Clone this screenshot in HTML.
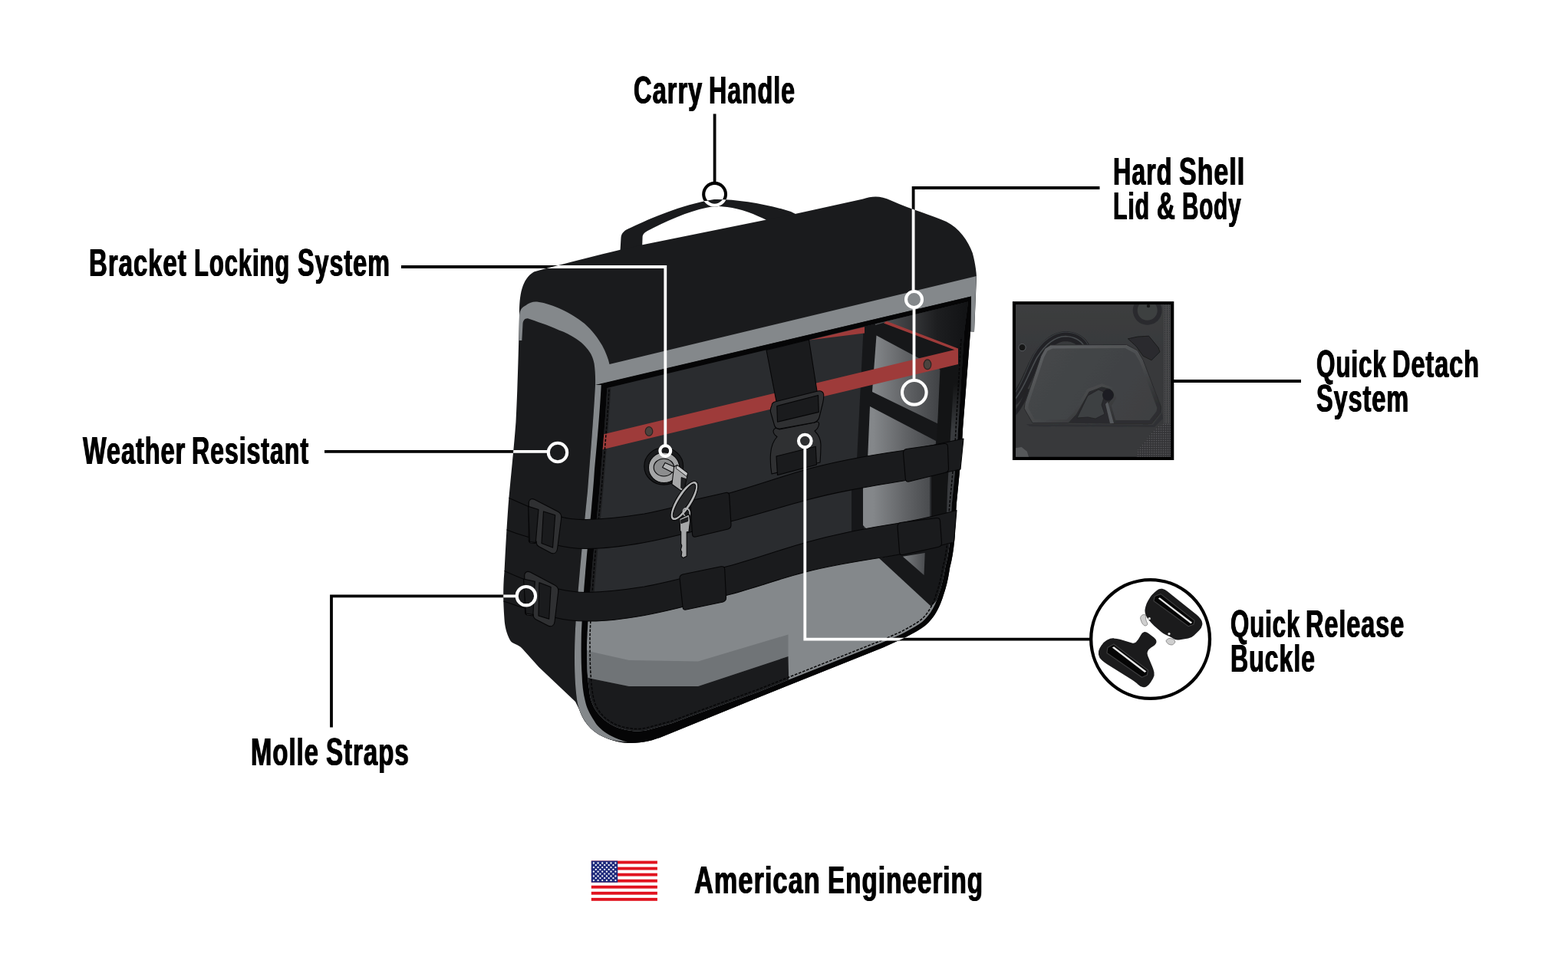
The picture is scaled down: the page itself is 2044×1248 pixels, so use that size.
<!DOCTYPE html>
<html lang="en">
<head>
<meta charset="utf-8">
<title>Saddlebag Features</title>
<style>
html,body{margin:0;padding:0;background:#fff;}
body{width:2044px;height:1248px;position:relative;overflow:hidden;font-family:"Liberation Sans",sans-serif;}
#art{position:absolute;left:0;top:0;width:2044px;height:1248px;display:block;}
.lb{position:absolute;left:0;top:0;margin:0;width:0;height:0;font-weight:700;font-size:50.5px;line-height:58px;white-space:nowrap;color:#000;}
.w{position:absolute;display:block;height:58px;transform-origin:0 0;will-change:transform;letter-spacing:1.5px;text-shadow:0.8px 0 0 #000,-0.8px 0 0 #000;}
</style>
</head>
<body>
<svg id="art" width="2044" height="1248" viewBox="0 0 2044 1248">
<defs>
<path id="silh" d="M677,410 C677,385 680,364 696,354.5 C720,347.5 770,335 808.5,325.8 L837.6,319.2 L1037.5,278.75 L1125,259.5 C1137,255.5 1148,255 1161.6,261.6 C1190,274 1215,281 1233.5,289 C1250,297 1262,314 1267.8,330 C1271,342 1272.5,352 1273,361 L1270,432.5 L1265,432.5 L1255,560 C1253.5,595 1249,635 1246.6,661 C1245.5,680 1245,695 1244.2,704.2 C1243,718 1241,730 1238.2,740.2 C1236,755 1233.5,766 1229.8,776.3 C1226.5,787 1223,795 1217.8,802.7 C1213,809.5 1208,815 1200.9,819.5 C1193,824.5 1185,829 1176.9,832.8 L1151,844.5 L990,909 L865,960 C850,966 835,970 815,968.75 C800,967 790,963 780,957.5 C768,950 760,940 755,925 L750,915 L702.5,870 L681,846 C675,839.5 668,840 665,835 C660,826 658,816 657.5,807.5 C655.5,780 656,762 657.5,745 C659,715 660.5,688 662.5,660 C665,630 669.5,590 672.5,550 C674.5,510 676,460 677,410 Z"/>
<path id="handle" d="M808.5,327 L809.5,310 C810,304 814,300 822,297 C850,284 885,268 931,260 C960,259.5 1000,266 1031,276 L1040,280.5 L1001,288 C985,279.5 965,272 948,270 C940,269 935,269 931,269 C905,273 880,283 851,297.5 C843,301.5 838,304 837.6,308.5 L837.2,320.5 Z"/>
<clipPath id="clipbag"><use href="#silh"/><use href="#handle"/><rect x="910" y="262" width="44" height="14"/></clipPath>
<clipPath id="clipsil"><use href="#silh"/></clipPath>
<path id="face" d="M776,502 L1266,386.5 L1265,432.5 L1255,560 C1253.5,595 1249,635 1246.6,661 C1245.5,680 1245,695 1244.2,704.2 C1243,718 1241,730 1238.2,740.2 C1236,755 1233.5,766 1229.8,776.3 C1226.5,787 1223,795 1217.8,802.7 C1213,809.5 1208,815 1200.9,819.5 C1193,824.5 1185,829 1176.9,832.8 L1151,844.5 L990,909 L865,960 C850,966 835,970 815,968.75 C800,967 790,963 780,957.5 C768,950 758,938 753,918 C749,895 748,860 750,820 C753,770 760,700 766,640 C770,590 774,540 776,502 Z"/>
<clipPath id="clipface"><use href="#face"/></clipPath>
<path id="panel" d="M791.3,506 L1262,393.5 L1257,432.5 L1249,560 C1247.5,595 1243,635 1240.6,661 C1239.5,680 1239,695 1238.2,704.2 C1237,718 1235,729 1232.4,739 C1230,753 1227.7,764 1224,774 C1221,784 1217.5,792 1212.8,799 C1208.5,805 1204,810 1197.5,814.3 C1190,819 1182,823.5 1174.3,827.2 L1148.6,838.6 L988,902.5 L900,934 L875.6,943.2 L842,952.5 C835,953.5 830,953.8 825.1,953.3 C812,952 800,948 791.5,941.6 C783,935 778,929 774.6,923 C770,914 768.5,906 767.9,897.8 C766,885 765.5,875 765.4,864.1 C764.8,850 764.8,840 765.5,830.5 C767,790 774.5,710 781.3,640 C785.3,590 789.3,545 791.3,506 Z"/>
<clipPath id="clippanel"><use href="#panel"/></clipPath>
<linearGradient id="gp1" gradientUnits="userSpaceOnUse" x1="1138" y1="0" x2="1228" y2="0"><stop offset="0" stop-color="#84878a"/><stop offset="0.5" stop-color="#5f6164"/><stop offset="1" stop-color="#3e4043"/></linearGradient>
<linearGradient id="gp2" gradientUnits="userSpaceOnUse" x1="1160" y1="0" x2="1262" y2="0"><stop offset="0" stop-color="#4b4d50"/><stop offset="0.6" stop-color="#1d1e20"/><stop offset="1" stop-color="#111214"/></linearGradient>
<g id="callouts" fill="none" stroke-width="3.8">
  <path d="M931.6,148.5 V238"/>
  <circle cx="931.6" cy="253.3" r="14.4" stroke-width="4.1"/>
  <path d="M1433.5,245 H1190.6 V378.5"/>
  <circle cx="1191.5" cy="390.5" r="10.5" stroke-width="4.1"/>
  <path d="M1191.5,402.5 V495"/>
  <circle cx="1191.8" cy="511.8" r="15.8" stroke-width="4.1"/>
  <path d="M523,348 H867.3 V580"/>
  <circle cx="867.3" cy="588" r="6.9" stroke-width="4.1"/>
  <path d="M423,588.8 H713"/>
  <circle cx="727" cy="590" r="12.2" stroke-width="4.1"/>
  <path d="M432,948.5 V777.3 H672"/>
  <circle cx="685.9" cy="777.2" r="12.2" stroke-width="4.1"/>
  <circle cx="1049.3" cy="575" r="8.3" stroke-width="4.1"/>
  <path d="M1049.3,584 V833.6 H1421"/>
  <path d="M1530,497 H1696"/>
</g>
<clipPath id="clipdetach"><rect x="1324.1" y="397.3" width="202" height="198.5"/></clipPath>
<linearGradient id="gdtop" x1="0" y1="0" x2="0" y2="1"><stop offset="0" stop-color="#3c3d3f"/><stop offset="1" stop-color="#38393b"/></linearGradient>
<pattern id="meshpat" width="3" height="3" patternUnits="userSpaceOnUse"><rect width="3" height="3" fill="none"/><circle cx="1.5" cy="1.5" r="0.8" fill="#58595b"/></pattern>
<linearGradient id="gp3" gradientUnits="userSpaceOnUse" x1="1176" y1="0" x2="1206" y2="0"><stop offset="0" stop-color="#7d8083"/><stop offset="1" stop-color="#4a4c4f"/></linearGradient>
<linearGradient id="gband" gradientUnits="userSpaceOnUse" x1="0" y1="500" x2="0" y2="560"><stop offset="0" stop-color="#131415"/><stop offset="1" stop-color="#393b3e"/></linearGradient>
<linearGradient id="gbevel" gradientUnits="userSpaceOnUse" x1="1400" y1="448" x2="1450" y2="555"><stop offset="0" stop-color="#5a5c5e"/><stop offset="0.5" stop-color="#4a4c4e"/><stop offset="1" stop-color="#2d2e30"/></linearGradient>
<linearGradient id="gplate" gradientUnits="userSpaceOnUse" x1="1350" y1="450" x2="1500" y2="552"><stop offset="0" stop-color="#454749"/><stop offset="1" stop-color="#3e4042"/></linearGradient>
<filter id="soft" x="-5%" y="-5%" width="110%" height="110%"><feGaussianBlur stdDeviation="0.7"/></filter>

</defs>
<use href="#callouts" stroke="#000"/>

<g id="bag">
<use href="#handle" fill="#1a1b1d"/>
<use href="#silh" fill="#1a1b1d"/>
<!-- reflective band -->
<path fill="#84888b" d="M677,411 C678,404 680,401 685,398.5 C690,394.5 695,393 700,393.5 C712,395 722,399 732,403.5 C745,409.5 753,415 762,422 C772,431 779,440 785,450.5 C790,460 793,468 794.5,475 L1272.7,360 L1270,432.5 L1265.5,432 L1266,386.5 L776,502.5 C776.3,492 775.8,483 774.6,474.3 C773,466 770,460.5 766.7,456.3 C762,450 757,445.5 751,441.7 C744,437 737,433.5 728.5,430.5 C721,427 714,424 706,421.5 C700,419.5 694,417 688,415.3 C684,415 682,418 681.5,422 L680.3,444 L676.5,444 Z"/>
<!-- front face -->
<use href="#face" fill="#050506"/>
<path fill="#84888b" d="M776,502 C774,540 770,590 766,640 C760,700 753,770 750,820 C748,860 749,895 753,918 C758,938 768,950 780,957.5 C790,963 800,967 818.4,967.5 C812,966.5 800,962 791.5,956.7 C783,951 778,946 774.6,939.9 C768,930 764.5,922 762.9,914.6 C760,903 759,892 758.6,881 C757.5,865 757.5,848 757.8,830.5 C759,800 761,775 761.4,766 C764,735 767,700 770.2,671.7 C772,650 774,630 775,612 C779,570 782,535 783.75,502 Z"/>
<use href="#panel" fill="#2a2c2f"/>
<g clip-path="url(#clippanel)">
  <!-- interior right: frame seen through -->
  <path fill="#161719" d="M1126,420 L1270,380 L1270,600 L1117,600 Z"/>
  <path fill="url(#gp2)" d="M1141,418 L1270,385 L1270,470 L1250,456 L1155,420 L1141,424 Z"/>
  <path fill="url(#gp1)" d="M1142.5,437.5 L1227.5,483 L1222.5,552.5 L1137,511 Z"/>
  <path fill="url(#gp1)" d="M1134,530 L1220,575 L1219,600 L1131,600 Z"/>
  <path fill="#161719" d="M1110,600 L1126,600 L1126,700 L1110,700 Z"/>
  <path fill="#131415" d="M1214,600 L1260,600 L1250,725 L1214,725 Z"/>
  <path fill="#131415" d="M1226,470 L1262,440 L1258,600 L1220,600 Z"/>
  <path fill="url(#gband)" d="M1243,500 L1256,500 L1246,725 L1232.5,725 L1235,640 Z"/>
  <path fill="url(#gp1)" d="M1125,620 L1212,600 L1212,680 L1135,695 L1125,685 Z"/>
  <path fill="none" stroke="#1e1f21" stroke-width="5.5" d="M793.5,506 C791.5,545 787.5,590 783.5,640 C777,710 769.5,790 768,830.5 C767.5,860 768,885 770,900"/>
  <!-- red frame -->
  <path fill="#9e3b3a" d="M1055,443.4 L1127,426.2 L1127,434.6 Z"/>
  <path fill="#9e3b3a" d="M1155.6,418.8 L1249,454.6 L1249,458 L1152,421.6 Z"/>
  <path fill="#9e3b3a" d="M784,567 L1249,455 L1249,475 L784,586.5 Z"/>
  <ellipse cx="846" cy="562.5" rx="4.8" ry="6" fill="#4b433e" stroke="#2a2422" stroke-width="1.2"/>
  <ellipse cx="1209" cy="475.3" rx="4.8" ry="6.4" fill="#4b433e" stroke="#2a2422" stroke-width="1.2"/>
  <!-- bottom light regions -->
  <path fill="#84888b" d="M760,800 C800,804 850,796 900,784 C960,770 1010,754 1050,740 C1100,724 1150,714 1175,714 L1245,700 L1245,850 L1000,960 L760,960 Z"/>
  <path fill="#17181a" d="M1146,728 L1240,708 L1236,745 L1228,775 L1214,791 Z"/>
  <path fill="url(#gp3)" d="M1176.9,725.8 L1205.7,721 L1204.5,750 Z"/>
  <path fill="#707477" d="M760,846 L771,850 L820,861 L910,862.5 L1027.5,827.5 L1027.5,856 L910,895 L820,895 L771,885 L760,882 Z"/>
  <path fill="#1a1b1d" d="M760,882 L771,885 L820,895 L910,895 L1027.5,856 L1028.5,900 L900,970 L760,970 Z"/>
</g>
<!-- stitching -->
<g clip-path="url(#clipface)">
<path fill="none" stroke="#060607" stroke-width="1.5" stroke-dasharray="3.6 1.8" d="M794,508 C792,545 788,590 784,640 C778,700 771,770 769,830.5 C769,850 769,870 770.5,885 C771.5,900 773,912 777.5,921.5 C781,928.5 786,934.5 793.5,939.5 C801,945 812,949 825,950.3 C830,950.8 836,950.5 841.5,949.5 L875,940.5 L899,931.5 L987,899.5 L1147.6,835.8 L1173,824.5 C1181,820.5 1189,816 1196,811.5 C1202,807.5 1206.5,803 1210.3,797 C1215,790 1218,783 1221,773 C1224.5,763 1227,752 1229.4,738.5 C1232,728 1234,717.5 1235.2,704 C1236,695 1236.5,680 1237.6,661 C1240,635 1244.5,595 1246,560 L1253,440"/>
</g>
<!-- side strap outlines -->
<g clip-path="url(#clipsil)" fill="none" stroke="#060607" stroke-width="1.1">
  <path d="M660,648 C670,652 680,657 689,660.5"/>
  <path d="M658,690 C668,694 680,698 689,700.5"/>
  <path d="M656,744 C665,748 674,752 682,755"/>
  <path d="M656,784 C666,787 676,791 685,793.5"/>
</g>
<!-- centre strap + quick release buckle -->
<g stroke="#060607" stroke-width="1.1" stroke-linejoin="round">
  <path fill="#1a1b1d" d="M999,456.5 L1054.5,443 L1065.5,513 L1012.5,526 Z"/>
  <path fill="#2f3032" d="M1008,562 C1009,558 1012,557.5 1016,560 L1062,551 C1066,549 1068,550.5 1067.5,553.5 C1067,557 1065,560 1062,562 C1067,567 1070,573 1070,580 C1070,590 1069.5,597 1069,603 L1006,618 C1004.5,610 1004,600 1004.5,592 C1005,583 1008,575 1013,569.5 C1010,567.5 1008,565 1008,562 Z"/>
  <path fill="#1a1b1d" d="M1012,595 L1063.3,582.2 L1064.5,606 L1013.5,619.5 Z"/>
  <path fill="#2f3032" d="M1006,529 C1006,526 1008,524.5 1011,523.8 L1066,510 C1070,509.2 1073,510.5 1073.6,514 C1074,518 1073.5,522 1072.5,526 L1068,544 C1067,548 1065,550 1061,551 L1017,559 C1013,559.5 1010.5,558 1009.5,554.5 L1004.5,537 C1004,534 1005,531 1006,529 Z"/>
  <path fill="#1a1b1d" d="M1012.8,529.5 L1066.5,515.5 L1067.3,537.4 L1013.5,550.2 Z"/>
</g>
<!-- molle straps on front -->
<g stroke="#060607" stroke-width="1.1" stroke-linejoin="round" fill="#1a1b1d">
  <path d="M727,673 C740,676.5 752,678 765,677.5 C790,677 815,674 840,670 C880,662 915,652 952.5,642.5 C990,632 1020,621 1050,612.5 C1095,600 1135,593.5 1177.5,587.5 C1205,583 1230,578 1256,572 L1252,612 C1225,618 1200,623 1175,627.5 C1130,635 1090,641.5 1050,652.5 C1015,662 985,671.5 952.5,680 C915,690 880,700 840,707.5 C815,712 790,715.5 765,715.5 C750,715.5 738,714 724,710.5 Z"/>
  <path d="M728,768 C741,771 753,772.5 765,772.5 C790,772 815,769 840,765 C880,757.5 915,747.5 952.5,737.5 C990,727 1020,716 1050,707.5 C1095,695 1130,688.5 1170,682.5 C1198,678 1222,672 1247,665.5 L1243.5,707 C1218,713.5 1195,719 1170,723.5 C1130,730.5 1090,735.5 1050,746 C1015,755 985,766.5 952.5,775 C915,785 880,795 840,802.5 C815,807 790,810.5 765,810 C750,810 736,808.5 722,805 Z"/>
  <path d="M900,657 C900,654 901,652.8 904,652 L946,642.5 C949,642 950.5,643 950.7,646 L953,684 C953.2,687 952,689 949,690 L907,700 C904,700.5 902.7,699.5 902.5,696.5 Z"/>
  <path d="M886,754 C886,751 887,749.8 890,749 L940,738.8 C943,738.3 944.5,739.3 944.7,742.3 L946.5,779 C946.7,782 945.5,784 942.5,785 L894.5,795 C891.5,795.5 890.2,794.5 890,791.5 Z"/>
  <path d="M1177.5,591 C1177.3,588 1178.5,586.3 1181.5,585.5 L1231,578.5 C1234,578.2 1235.3,579.5 1235.5,582.5 L1236.5,611 C1236.7,614 1235.5,615.6 1232.5,616.3 L1185,628 C1182,628.5 1180.5,627.3 1180.3,624.3 Z"/>
  <path d="M1170,687 C1169.8,684 1171,682.3 1174,681.5 L1221,675.5 C1224,675.2 1225.3,676.5 1225.5,679.5 L1227.5,708 C1227.7,711 1226.5,712.6 1223.5,713.3 L1177,723.5 C1174,724 1172.7,722.8 1172.5,719.8 Z"/>
</g>
<!-- tri-glide buckles -->
<g stroke="#060607" stroke-width="1.1" stroke-linejoin="round">
  <path fill="#2f3032" d="M689.3,655 C690,651 693,649.5 697,651.5 L727,667 C731,669 732.3,672 731.7,676 L726.5,716 C726,721 722,723 718,721 L703,713 C700,711.5 699,709 699.3,706 L698,708.5 L691.5,708 C689.5,707.5 689,705 689.2,702 Z"/>
  <path fill="#1a1b1d" d="M688.7,660.4 L702,664.5 L698.3,707.5 L690.5,706.5 Z"/>
  <path fill="#1a1b1d" d="M708.5,666.9 L723.7,671.7 L720.5,714.1 L706,708.5 Z"/>
  <path fill="#2f3032" d="M683.7,750 C684,746 687,744.5 691,746 L723,763 C727,765 728.3,768 727.7,772 L723,811 C722.5,816 718.5,818 714.5,816 L699,808 C696,806.5 695,804 695.2,801 L694.5,803 L687,802 C685,801.5 684.3,799.5 684.5,797 Z"/>
  <path fill="#1a1b1d" d="M682.5,755 L697.3,758.2 L694.9,801.5 L685.5,800 Z"/>
  <path fill="#1a1b1d" d="M702.9,759.8 L718.1,765.4 L715.7,807.1 L702,803 Z"/>
</g>
<!-- lock and keys -->
<g stroke="#060607" stroke-width="1.1" stroke-linejoin="round">
  <ellipse cx="865.2" cy="607.9" rx="25.4" ry="24.2" fill="#1a1b1d"/>
  <ellipse cx="865.6" cy="609.8" rx="20.2" ry="19.8" fill="#a4a5a6"/>
  <ellipse cx="865.4" cy="609.6" rx="13.2" ry="11.4" fill="#8c8d8e"/>
  <path fill="#b2b3b4" d="M863.6,609.5 L867,603.4 L880.5,609.6 L877.4,616.6 Z"/>
  <path fill="#a6a7a8" d="M878.6,608.8 L882.7,606.5 L896.5,617 L894.5,627.2 L891.6,641 L887.2,639.6 L875.9,631.5 Z"/>
  <path fill="#c4c5c6" stroke-width="0.8" d="M882.7,606.5 L896.5,617 L895.2,621.5 L881,610.6 Z"/>
  <path fill="#1f2022" stroke-width="0.8" d="M888.1,622.5 L894.3,624.6 L891.9,638.8 L887.7,636.1 Z"/>
  <ellipse cx="892" cy="653.1" rx="29.4" ry="10.3" transform="rotate(-57.9 892 653.1)" fill="#b4b5b6"/>
  <ellipse cx="892" cy="653.1" rx="25.6" ry="6.4" transform="rotate(-57.9 892 653.1)" fill="#27282a"/>
  <ellipse cx="894.8" cy="668.3" rx="4.3" ry="5.6" transform="rotate(-20 894.8 668.3)" fill="none" stroke="#b4b5b6" stroke-width="1.6"/>
  <path fill="#a6a7a8" d="M885.8,676.5 L898.3,670.8 L899.7,679 L897.9,693.3 L895.2,693.8 L895.2,725.3 L890.8,727.6 L888.1,725.3 L888.8,719.9 L887.4,717.1 L888.8,711.7 L887.7,709 L887.7,693.6 L886.6,692 L886.4,684.4 Z"/>
  <path fill="#1f2022" stroke-width="0.8" d="M887.6,678.3 L896.6,674.6 L896.8,679.6 L887.9,682.6 Z"/>
</g>
</g>

<use href="#callouts" stroke="#fff" clip-path="url(#clipbag)"/>

<g id="detach">
<rect x="1322" y="395.2" width="206.2" height="202.7" fill="#38393b" stroke="#000" stroke-width="4.2"/>
<g clip-path="url(#clipdetach)"><g filter="url(#soft)">
<rect x="1324" y="397" width="203" height="60" fill="url(#gdtop)"/>
<rect x="1517" y="397" width="10" height="200" fill="#48494b"/>
<path d="M1518.5,397 V597 M1521.5,397 V597 M1524.5,397 V597" stroke="#26282a" stroke-width="1" fill="none" stroke-dasharray="1.2 1.2"/>
<path d="M1515.5,552.6 L1526.3,552.6 L1526.3,595.9 L1481.2,595.9 L1483.0,586.9 L1506.5,558.0 Z" fill="#343537"/>
<path d="M1515.5,552.6 L1526.3,552.6 L1526.3,595.9 L1481.2,595.9 L1483.0,586.9 L1506.5,558.0 Z" fill="url(#meshpat)"/>
<path d="M1323.9,584.2 L1331.6,582.9 L1338.8,588.7 L1341.0,595.9 L1323.9,595.9 Z" fill="#56585a"/>
<circle cx="1495.7" cy="404.8" r="19" fill="#2a2b2d"/>
<circle cx="1495.7" cy="404.8" r="13" fill="#3e3f41"/>
<circle cx="1497" cy="399" r="2.2" fill="#161718"/>
<circle cx="1332.5" cy="453.1" r="4.6" fill="#141516" stroke="#5a5e62" stroke-width="1"/>
<path d="M1322,522 C1335,507 1342,484 1352,466 C1362,450 1375,439 1389,438.5 C1401,439 1409,444 1414,452" fill="none" stroke="#222325" stroke-width="13" stroke-linecap="round"/>
<path d="M1322,522 C1335,507 1342,484 1352,466 C1362,450 1375,439 1389,438.5 C1401,439 1409,444 1414,452" fill="none" stroke="#474b4f" stroke-width="1.6"/><path d="M1322,514 C1333,500 1338,480 1348,462 C1358,445 1373,433.5 1389,433 C1403,433.5 1413,440 1418,449" fill="none" stroke="#3b3e42" stroke-width="1.2"/>
<path d="M1322,540 C1330,532 1337,517 1340,507" fill="none" stroke="#222325" stroke-width="5"/>
<path d="M1470.4,441.8 L1483.0,439.1 L1497.5,438.2 L1510.1,453.5 L1511.9,458.9 L1501.1,469.7 L1490.2,464.3 L1481.2,451.7 Z" fill="#2b2c2e" stroke="#1a1b1c" stroke-width="1"/>
<path d="M1338,553 L1503,554 L1515,538 L1516,546 L1505,557 L1342,556 Z" fill="#2a2b2d" opacity="0.55"/>
<path d="M1369.5,449.9 L1468.6,449.5 L1483.0,457.1 L1490.2,469.7 L1513.7,531.0 L1512.8,538.2 L1501.1,552.6 L1450.6,552.6 L1443.4,527.4 L1450.6,518.4 L1447.0,507.6 L1436.2,504.9 L1419.9,511.2 L1403.7,540.0 L1392.9,551.7 L1346.0,551.7 L1335.2,532.8 L1336.1,525.6 L1356.9,464.3 L1362.3,454.4 Z" fill="url(#gbevel)" stroke="#2a2b2d" stroke-width="1" stroke-linejoin="round"/>
<path d="M1372.2,454.4 L1466.8,454.0 L1479.4,460.7 L1485.7,471.5 L1508.3,531.9 L1507.4,536.4 L1498.4,548.1 L1454.2,548.1 L1448.8,529.2 L1455.1,519.3 L1449.7,504.9 L1436.2,500.4 L1417.2,507.6 L1400.1,537.3 L1390.2,547.2 L1348.8,547.2 L1340.3,531.9 L1341.0,526.5 L1361.0,466.1 L1365.5,457.5 Z" fill="url(#gplate)"/>
<path d="M1403.7,540.0 L1419.9,511.2 L1436.2,504.9 L1447.0,507.6 L1450.6,518.4 L1443.4,527.4 L1450.6,552.6 L1392.9,551.7 Z" fill="#2a2b2d"/>
<path d="M1404,545 L1418,516 L1432,508 L1441,512 L1436,528 L1440,540 L1428,546 L1418,544 Z" fill="#3d3f42" stroke="#222325" stroke-width="0.8"/>
<circle cx="1444.5" cy="515" r="7.5" fill="#1d1e20"/>
<path d="M1441,527 L1447,552 L1452,552 L1444,524 Z" fill="#55585b"/>
</g></g>
</g>

<g id="buckle">
<circle cx="1499.6" cy="833.5" r="77.4" fill="#fff" stroke="#000" stroke-width="4.3"/>
<path d="M1486.8,807.5 Q1486.2,805.6 1487.2,803.9 L1487.5,803.4 Q1488.6,801.7 1490.6,801.6 L1491.9,801.6 Q1493.9,801.5 1493.9,803.5 L1493.7,806.5 Q1493.7,808.5 1494.5,810.3 L1495.7,812.7 Q1496.5,814.5 1494.8,815.5 L1494.3,815.7 Q1492.5,816.7 1491.1,815.3 L1490.0,814.2 Q1488.6,812.8 1488.0,810.9 Z" fill="#cfcfcf" stroke="#6f6f6f" stroke-width="0.7"/>
<path d="M1520.6,837.2 Q1519.3,835.6 1520.9,834.3 L1522.4,833.2 Q1523.9,832.0 1525.9,832.5 L1529.0,833.4 Q1530.9,834.0 1531.6,835.8 L1531.6,835.8 Q1532.3,837.6 1530.8,839.0 L1529.7,840.0 Q1528.3,841.4 1526.3,840.9 L1524.9,840.6 Q1522.9,840.2 1521.7,838.6 Z" fill="#cfcfcf" stroke="#6f6f6f" stroke-width="0.7"/>
<path d="M1500.2,779.4 Q1502.3,776.0 1505.4,773.4 L1508.6,770.7 Q1511.7,768.1 1514.9,768.8 L1514.9,768.8 Q1518.2,769.5 1521.3,772.0 L1559.1,802.4 Q1562.2,804.9 1564.6,808.0 L1564.6,808.0 Q1566.9,811.1 1566.2,814.8 L1566.2,814.8 Q1565.5,818.6 1562.6,821.3 L1555.7,828.0 Q1552.8,830.8 1548.8,831.4 L1536.6,833.4 Q1532.6,834.0 1530.1,832.0 L1530.1,832.0 Q1527.6,830.1 1523.9,828.5 L1520.4,827.1 Q1516.7,825.5 1513.7,822.8 L1505.3,815.4 Q1502.3,812.8 1499.8,809.7 L1498.4,808.0 Q1495.8,804.9 1494.4,801.3 L1494.4,801.3 Q1492.9,797.6 1493.8,793.7 L1494.3,791.5 Q1495.1,787.6 1497.2,784.2 Z" fill="#1b1b1c" stroke="#1b1b1c" stroke-width="2" stroke-linejoin="round"/>
<path d="M1505.2,777.5 L1513.1,774.6 L1557.1,809.2 L1556.0,814.2 L1549.2,816.8 L1504.0,783.7 Z" fill="#050505" stroke="#3c3c3d" stroke-width="1.2" stroke-linejoin="round"/>
<path d="M1509.8,780.5 L1511.8,779.3 L1554.2,811.8 L1552.2,813.2 Z" fill="#e6e6e6"/>
<circle cx="1498.3" cy="806.7" r="1.6" fill="#e8e8e8"/>
<circle cx="1524" cy="826.6" r="1.6" fill="#e8e8e8"/>
<path d="M1433.0,853.1 Q1432.4,849.1 1434.4,845.7 L1436.8,841.9 Q1438.8,838.5 1442.3,836.4 L1444.4,835.1 Q1447.8,833.0 1451.8,833.3 L1451.9,833.4 Q1455.9,833.7 1459.7,834.8 L1475.4,839.4 Q1479.2,840.5 1482.0,837.6 L1482.2,837.3 Q1485.0,834.4 1486.8,830.8 L1487.5,829.4 Q1489.3,825.8 1491.4,825.1 L1491.4,825.1 Q1493.4,824.3 1496.6,826.8 L1503.5,832.0 Q1506.6,834.4 1506.5,836.9 L1506.5,836.9 Q1506.4,839.3 1503.0,841.6 L1499.9,843.7 Q1496.5,846.0 1495.1,849.0 L1495.1,849.0 Q1493.7,852.0 1495.3,855.7 L1500.7,868.3 Q1502.3,871.9 1503.2,875.8 L1503.5,877.0 Q1504.3,880.9 1502.2,884.3 L1499.0,889.5 Q1496.8,892.8 1494.5,894.2 L1494.5,894.2 Q1492.2,895.6 1489.8,895.1 L1489.8,895.1 Q1487.3,894.6 1484.3,891.9 L1482.2,890.0 Q1479.2,887.4 1475.8,885.3 L1446.6,867.1 Q1443.2,865.0 1440.0,862.6 L1437.0,860.2 Q1433.8,857.8 1433.1,853.8 Z" fill="#1b1b1c" stroke="#1b1b1c" stroke-width="2" stroke-linejoin="round"/>
<path d="M1443.9,844.5 L1451.8,839.9 L1496.5,874.1 L1495.4,880.3 L1488.6,883.2 L1442.9,851.4 Z" fill="#050505" stroke="#3c3c3d" stroke-width="1.2" stroke-linejoin="round"/>
<path d="M1449.8,844.5 L1452.1,843.2 L1494.4,875.5 L1492.2,877.0 Z" fill="#e6e6e6"/>
</g>

<g id="flag">
<rect x="770.8" y="1122.6" width="86.1" height="52.3" fill="#fff"/>
<g fill="#e1131f">
<rect x="770.8" y="1122.6" width="86.1" height="3.9"/>
<rect x="770.8" y="1130.65" width="86.1" height="3.9"/>
<rect x="770.8" y="1138.7" width="86.1" height="3.9"/>
<rect x="770.8" y="1146.75" width="86.1" height="3.9"/>
<rect x="770.8" y="1154.8" width="86.1" height="3.9"/>
<rect x="770.8" y="1162.85" width="86.1" height="3.9"/>
<rect x="770.8" y="1170.9" width="86.1" height="3.9"/>
</g>
<rect x="770.8" y="1122.6" width="34.4" height="28.1" fill="#1f2a7c"/>
<g fill="#fff">
<circle cx="773.9" cy="1125.5" r="1.15"/>
<circle cx="779.6" cy="1125.5" r="1.15"/>
<circle cx="785.2" cy="1125.5" r="1.15"/>
<circle cx="790.9" cy="1125.5" r="1.15"/>
<circle cx="796.5" cy="1125.5" r="1.15"/>
<circle cx="802.4" cy="1125.5" r="1.15"/>
<circle cx="773.9" cy="1131.2" r="1.15"/>
<circle cx="779.6" cy="1131.2" r="1.15"/>
<circle cx="785.2" cy="1131.2" r="1.15"/>
<circle cx="790.9" cy="1131.2" r="1.15"/>
<circle cx="796.5" cy="1131.2" r="1.15"/>
<circle cx="802.4" cy="1131.2" r="1.15"/>
<circle cx="773.9" cy="1136.7" r="1.15"/>
<circle cx="779.6" cy="1136.7" r="1.15"/>
<circle cx="785.2" cy="1136.7" r="1.15"/>
<circle cx="790.9" cy="1136.7" r="1.15"/>
<circle cx="796.5" cy="1136.7" r="1.15"/>
<circle cx="802.4" cy="1136.7" r="1.15"/>
<circle cx="773.9" cy="1142.5" r="1.15"/>
<circle cx="779.6" cy="1142.5" r="1.15"/>
<circle cx="785.2" cy="1142.5" r="1.15"/>
<circle cx="790.9" cy="1142.5" r="1.15"/>
<circle cx="796.5" cy="1142.5" r="1.15"/>
<circle cx="802.4" cy="1142.5" r="1.15"/>
<circle cx="773.9" cy="1148.1" r="1.15"/>
<circle cx="779.6" cy="1148.1" r="1.15"/>
<circle cx="785.2" cy="1148.1" r="1.15"/>
<circle cx="790.9" cy="1148.1" r="1.15"/>
<circle cx="796.5" cy="1148.1" r="1.15"/>
<circle cx="802.4" cy="1148.1" r="1.15"/>
<circle cx="776.8" cy="1128.2" r="1.15"/>
<circle cx="782.4" cy="1128.2" r="1.15"/>
<circle cx="788.1" cy="1128.2" r="1.15"/>
<circle cx="793.7" cy="1128.2" r="1.15"/>
<circle cx="799.4" cy="1128.2" r="1.15"/>
<circle cx="776.8" cy="1133.9" r="1.15"/>
<circle cx="782.4" cy="1133.9" r="1.15"/>
<circle cx="788.1" cy="1133.9" r="1.15"/>
<circle cx="793.7" cy="1133.9" r="1.15"/>
<circle cx="799.4" cy="1133.9" r="1.15"/>
<circle cx="776.8" cy="1139.6" r="1.15"/>
<circle cx="782.4" cy="1139.6" r="1.15"/>
<circle cx="788.1" cy="1139.6" r="1.15"/>
<circle cx="793.7" cy="1139.6" r="1.15"/>
<circle cx="799.4" cy="1139.6" r="1.15"/>
<circle cx="776.8" cy="1145.2" r="1.15"/>
<circle cx="782.4" cy="1145.2" r="1.15"/>
<circle cx="788.1" cy="1145.2" r="1.15"/>
<circle cx="793.7" cy="1145.2" r="1.15"/>
<circle cx="799.4" cy="1145.2" r="1.15"/>
</g>
</g>

</svg>
<div class="lb" id="l0"><span class="w" style="left:825.78px;top:88.9px;transform:scaleX(0.6467)">Carry</span> <span class="w" style="left:924.29px;top:88.9px;transform:scaleX(0.6370)">Handle</span></div>
<div class="lb" id="l1"><span class="w" style="left:1450.89px;top:194.9px;transform:scaleX(0.6390)">Hard</span> <span class="w" style="left:1536.53px;top:194.9px;transform:scaleX(0.6728)">Shell</span></div>
<div class="lb" id="l2"><span class="w" style="left:1451.17px;top:239.9px;transform:scaleX(0.5979)">Lid</span> <span class="w" style="left:1507.61px;top:239.9px;transform:scaleX(0.6537)">&amp;</span> <span class="w" style="left:1540.57px;top:239.9px;transform:scaleX(0.5860)">Body</span></div>
<div class="lb" id="l3"><span class="w" style="left:115.79px;top:314.2px;transform:scaleX(0.6524)">Bracket</span> <span class="w" style="left:253.27px;top:314.2px;transform:scaleX(0.6132)">Locking</span> <span class="w" style="left:388.07px;top:314.2px;transform:scaleX(0.6408)">System</span></div>
<div class="lb" id="l4"><span class="w" style="left:108.21px;top:559.1px;transform:scaleX(0.6422)">Weather</span> <span class="w" style="left:250.49px;top:559.1px;transform:scaleX(0.6353)">Resistant</span></div>
<div class="lb" id="l5"><span class="w" style="left:327.39px;top:951.9px;transform:scaleX(0.6512)">Molle</span> <span class="w" style="left:425.07px;top:951.9px;transform:scaleX(0.6538)">Straps</span></div>
<div class="lb" id="l6"><span class="w" style="left:1715.76px;top:445.8px;transform:scaleX(0.6213)">Quick</span> <span class="w" style="left:1814.69px;top:445.8px;transform:scaleX(0.6428)">Detach</span></div>
<div class="lb" id="l7"><span class="w" style="left:1716.27px;top:490.7px;transform:scaleX(0.6422)">System</span></div>
<div class="lb" id="l8"><span class="w" style="left:1604.16px;top:785.0px;transform:scaleX(0.6174)">Quick</span> <span class="w" style="left:1702.49px;top:785.0px;transform:scaleX(0.6410)">Release</span></div>
<div class="lb" id="l9"><span class="w" style="left:1603.89px;top:830.2px;transform:scaleX(0.6355)">Buckle</span></div>
<div class="lb" id="l10"><span class="w" style="left:905.04px;top:1119.0px;transform:scaleX(0.6799)">American</span> <span class="w" style="left:1078.79px;top:1119.0px;transform:scaleX(0.6588)">Engineering</span></div>

</body>
</html>
